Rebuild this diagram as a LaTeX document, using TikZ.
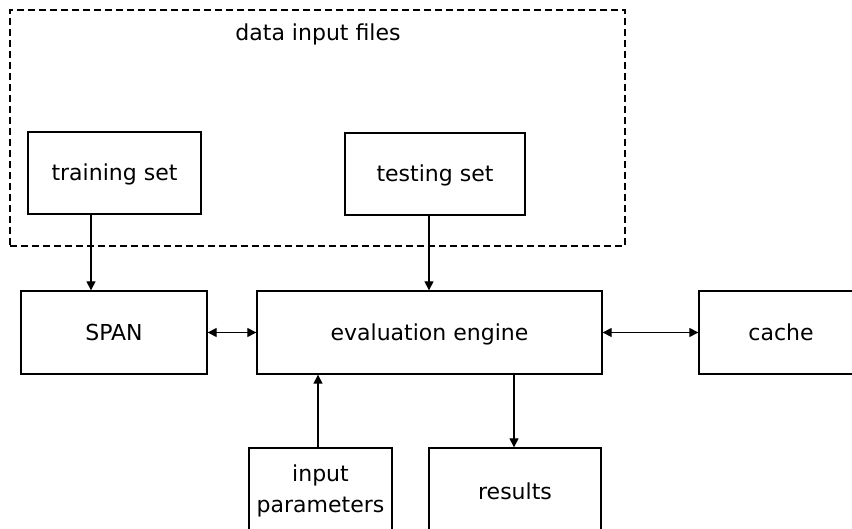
\documentclass[tikz,border=0pt]{standalone}
\usepackage{fontspec}
\setmainfont{DejaVu Sans}
\usetikzlibrary{arrows.meta}
\begin{document}
\begin{tikzpicture}[x=1pt,y=-1pt,
  box/.style={draw, line width=1.3pt, rectangle, inner sep=0pt, align=center,
    font=\fontsize{22}{31}\selectfont},
  oneline/.style={text height=18pt, text depth=2pt},
  tip/.tip={Triangle[length=9pt,width=9pt]},
  arr/.style={line width=1.1pt, -tip},
  darr/.style={line width=1.1pt, tip-tip},
  group/.style={draw, line width=1.1pt, dash pattern=on 7pt off 4pt}]
\useasboundingbox (0,0) rectangle (852,529);
\clip (0,0) rectangle (852,529);

% data files group
\node[group, minimum width=615pt, minimum height=236pt, inner sep=0pt] (files) at (317.5,128) {};
\node[font=\fontsize{22}{26}\selectfont, oneline] (filestitle) at (318,33) {data input files};
\node[box, oneline, minimum width=173pt, minimum height=82pt] (train) at (114.5,173) {training set};
\node[box, oneline, minimum width=180pt, minimum height=82pt] (test) at (435,174) {testing set};

% processing row
\node[box, oneline, minimum width=186pt, minimum height=83pt] (span) at (114,332.5) {SPAN};
\node[box, oneline, minimum width=345pt, minimum height=83pt] (eval) at (429.5,332.5) {evaluation engine};
\node[box, oneline, minimum width=164pt, minimum height=83pt] (cache) at (781,332.5) {cache};

% bottom row
\node[box, minimum width=143pt, minimum height=86pt] (params) at (320.5,491) {input\\parameters};
\node[box, oneline, minimum width=172pt, minimum height=86pt] (results) at (515,491) {results};

% connectors
\coordinate (t1) at ([xshift=-23.5pt]train.south);
\draw[arr] (t1) -- (t1 |- span.north);
\coordinate (t2) at ([xshift=-6pt]test.south);
\draw[arr] (t2) -- (t2 |- eval.north);
\draw[darr] (span.east) -- (eval.west);
\draw[darr] (eval.east) -- (cache.west);
\coordinate (p1) at ([xshift=-2.5pt]params.north);
\draw[arr] (p1) -- (p1 |- eval.south);
\coordinate (r1) at ([xshift=-1pt]results.north);
\draw[arr] (r1 |- eval.south) -- (r1);
\end{tikzpicture}
\end{document}
